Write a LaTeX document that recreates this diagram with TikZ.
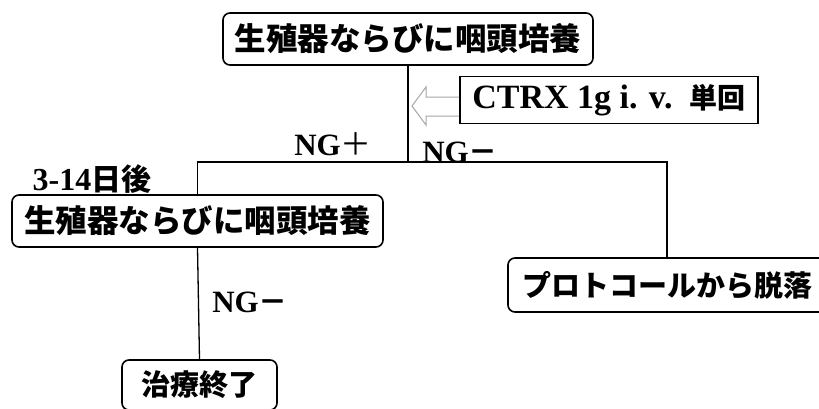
\documentclass[tikz,border=0pt]{standalone}
\usepackage{fontspec}
\setmainfont{Liberation Serif}
\newfontfamily\jp{Noto Sans CJK JP}
\tikzset{
  x=1pt, y=-1pt,
  rbox/.style={draw, line width=1.6pt, rounded corners=7pt, inner sep=0pt},
  sbox/.style={draw, line width=1.6pt, inner sep=0pt},
  link/.style={line width=1.3pt},
  lbl/.style={inner sep=0pt},
  hollow/.style={draw=gray!70, line width=1pt, line join=miter},
}
\begin{document}
\begin{tikzpicture}
\useasboundingbox (0,0) rectangle (819,408);
\fill[white] (0,0) rectangle (819,408);
% nodes
\node[rbox, minimum width=370pt, minimum height=52pt, font=\jp\bfseries\fontsize{31.5}{32}\selectfont] (top) at (408,39) {生殖器ならびに咽頭培養};
\node[sbox, minimum width=298pt, minimum height=47pt] (ctrx) at (609,100) {\fontsize{34}{34}\selectfont\bfseries CTRX 1g i. v.\ \ {\jp\fontsize{28}{28}\selectfont 単回}};
\node[rbox, minimum width=371pt, minimum height=52pt, font=\jp\bfseries\fontsize{31.5}{32}\selectfont] (cult) at (197.5,221) {生殖器ならびに咽頭培養};
\node[rbox, minimum width=318pt, minimum height=54pt, font=\jp\bfseries\fontsize{29}{29}\selectfont] (drop) at (667,285) {プロトコールから脱落};
\node[rbox, minimum width=155pt, minimum height=50pt, font=\jp\bfseries\fontsize{29}{29}\selectfont] (fin) at (199.5,385) {治療終了};
% labels
\node[lbl, font=\bfseries\fontsize{31}{31}\selectfont] (ngp) at (333,144) {NG{\jp\mdseries\fontsize{31}{31}\selectfont ＋}};
\node[lbl, font=\bfseries\fontsize{31}{31}\selectfont] (ngm) at (460,152) {NG{\jp\bfseries\fontsize{29}{29}\selectfont －}};
\node[lbl, font=\bfseries\fontsize{32}{32}\selectfont] (days) at (92,179) {3-14{\jp\fontsize{30}{30}\selectfont 日後}};
\node[lbl, font=\bfseries\fontsize{31}{31}\selectfont] (ngm2) at (250,302) {NG{\jp\bfseries\fontsize{29}{29}\selectfont －}};
% connectors
\coordinate (j) at (top.south |- 0,162);
\draw[link] (top.south) -- (j);
\draw[link] (cult.north) |- (j) -| (drop.north);
\draw[link] (cult.south) -- (fin.north);
% hollow arrow from CTRX box towards the vertical line
\coordinate (tip) at (412,106);
\draw[hollow] (ctrx.west |- 0,97) -- (426,97) -- (426,87) -- (tip) -- (426,125) -- (426,116) -- (ctrx.west |- 0,116);
\end{tikzpicture}
\end{document}
